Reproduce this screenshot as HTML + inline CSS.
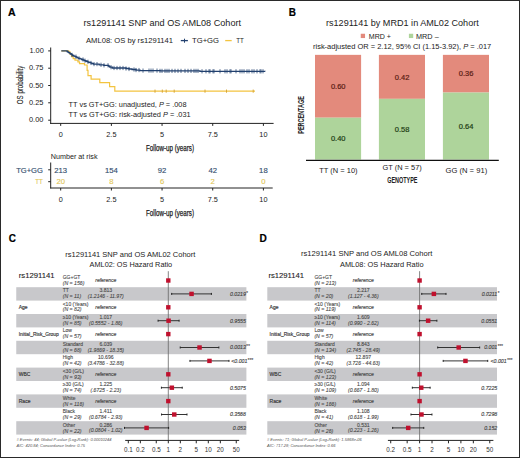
<!DOCTYPE html>
<html><head><meta charset="utf-8"><style>
html,body{margin:0;padding:0;background:#fff;}
svg{display:block;font-family:"Liberation Sans",sans-serif;}
</style></head><body>
<svg width="520" height="458" viewBox="0 0 520 458" fill="#222">
<text x="8.10" y="15.96" font-size="10.5" textLength="7.60" lengthAdjust="spacingAndGlyphs" font-weight="bold" fill="#000" stroke="#000" stroke-width="0.2">A</text>
<text x="83.50" y="25.65" font-size="8.8" textLength="157.50" lengthAdjust="spacingAndGlyphs">rs1291141 SNP and OS AML08 Cohort</text>
<text x="86.00" y="43.02" font-size="7.6" textLength="87.00" lengthAdjust="spacingAndGlyphs">AML08: OS by rs1291141</text>
<line x1="180.80" y1="40.60" x2="187.90" y2="40.60" stroke="#22406f" stroke-width="1.3"/>
<line x1="184.50" y1="38.70" x2="184.50" y2="42.70" stroke="#22406f" stroke-width="1.0"/>
<text x="192.00" y="43.02" font-size="7.6" textLength="27.00" lengthAdjust="spacingAndGlyphs">TG+GG</text>
<line x1="225.20" y1="40.60" x2="231.70" y2="40.60" stroke="#f3c440" stroke-width="1.3"/>
<text x="236.30" y="43.02" font-size="7.6" textLength="7.60" lengthAdjust="spacingAndGlyphs">TT</text>
<line x1="50.70" y1="47.50" x2="50.70" y2="123.90" stroke="#222" stroke-width="1"/>
<line x1="48.20" y1="50.90" x2="50.70" y2="50.90" stroke="#222" stroke-width="1"/>
<text x="43.80" y="53.15" font-size="7.4" text-anchor="end">1.00</text>
<line x1="48.20" y1="68.20" x2="50.70" y2="68.20" stroke="#222" stroke-width="1"/>
<text x="43.40" y="70.45" font-size="7.4" text-anchor="end">0.75</text>
<line x1="48.20" y1="85.50" x2="50.70" y2="85.50" stroke="#222" stroke-width="1"/>
<text x="43.40" y="87.75" font-size="7.4" text-anchor="end">0.50</text>
<line x1="48.20" y1="102.80" x2="50.70" y2="102.80" stroke="#222" stroke-width="1"/>
<text x="43.40" y="105.05" font-size="7.4" text-anchor="end">0.25</text>
<line x1="48.20" y1="120.20" x2="50.70" y2="120.20" stroke="#222" stroke-width="1"/>
<text x="43.40" y="122.45" font-size="7.4" text-anchor="end">0.00</text>
<text transform="translate(23.4,84.9) rotate(-90)" font-size="8.2" text-anchor="middle" textLength="38.5" lengthAdjust="spacingAndGlyphs" stroke="#222" stroke-width="0.1">OS probability</text>
<line x1="50.20" y1="123.40" x2="273.60" y2="123.40" stroke="#222" stroke-width="1"/>
<line x1="60.70" y1="123.40" x2="60.70" y2="125.90" stroke="#222" stroke-width="1"/>
<text x="60.70" y="137.01" font-size="7.3" text-anchor="middle">0</text>
<line x1="111.38" y1="123.40" x2="111.38" y2="125.90" stroke="#222" stroke-width="1"/>
<text x="111.38" y="137.01" font-size="7.3" text-anchor="middle">2.5</text>
<line x1="162.05" y1="123.40" x2="162.05" y2="125.90" stroke="#222" stroke-width="1"/>
<text x="162.05" y="137.01" font-size="7.3" text-anchor="middle">5</text>
<line x1="212.72" y1="123.40" x2="212.72" y2="125.90" stroke="#222" stroke-width="1"/>
<text x="212.72" y="137.01" font-size="7.3" text-anchor="middle">7.5</text>
<line x1="263.40" y1="123.40" x2="263.40" y2="125.90" stroke="#222" stroke-width="1"/>
<text x="263.40" y="137.01" font-size="7.3" text-anchor="middle">10</text>
<text x="170.00" y="150.81" font-size="8.4" text-anchor="middle" textLength="48.00" lengthAdjust="spacingAndGlyphs" stroke="#222" stroke-width="0.25">Follow-up (years)</text>
<text x="68.6" y="107.05" font-size="7.4" textLength="117.9" lengthAdjust="spacingAndGlyphs">TT vs GT+GG: unadjusted, <tspan font-style="italic">P</tspan> = .008</text>
<text x="68.6" y="117.35" font-size="7.4" textLength="122" lengthAdjust="spacingAndGlyphs">TT vs GT+GG: risk-adjusted <tspan font-style="italic">P</tspan> = .031</text>
<path d="M61.30,50.90 L68.70,50.90 L68.70,51.80 L70.00,51.80 L70.00,54.20 L71.50,54.20 L71.50,56.70 L73.20,56.70 L73.20,58.60 L75.00,58.60 L75.00,60.10 L77.90,60.10 L77.90,61.90 L79.50,61.90 L79.50,63.60 L84.50,63.60 L84.50,65.00 L87.10,65.00 L87.10,70.30 L88.00,70.30 L88.00,75.70 L91.10,75.70 L91.10,79.10 L99.80,79.10 L99.80,82.60 L109.60,82.60 L109.60,86.60 L114.80,86.60 L114.80,91.15 L255.00,91.15" fill="none" stroke="#f3c440" stroke-width="1.2"/>
<path d="M61.30,50.90 L66.30,50.90 L67.10,50.90 L67.10,51.48 L67.90,51.48 L67.90,52.05 L68.70,52.05 L68.70,52.62 L69.50,52.62 L69.50,53.20 L70.30,53.20 L70.30,53.77 L71.10,53.77 L71.10,54.35 L71.90,54.35 L71.90,54.92 L72.70,54.92 L72.70,55.50 L73.85,55.50 L73.85,56.08 L75.00,56.08 L75.00,56.65 L76.15,56.65 L76.15,57.22 L77.30,57.22 L77.30,57.80 L78.75,57.80 L78.75,58.38 L80.20,58.38 L80.20,58.95 L81.65,58.95 L81.65,59.52 L83.10,59.52 L83.10,60.10 L84.52,60.10 L84.52,60.67 L85.95,60.67 L85.95,61.25 L87.38,61.25 L87.38,61.83 L88.80,61.83 L88.80,62.40 L90.33,62.40 L90.33,62.97 L91.87,62.97 L91.87,63.53 L93.40,63.53 L93.40,64.10 L99.20,64.10 L99.20,64.80 L103.85,64.80 L103.85,65.30 L108.50,65.30 L108.50,65.80 L109.00,65.80 L109.00,66.27 L109.50,66.27 L109.50,66.73 L110.00,66.73 L110.00,67.20 L112.30,67.20 L112.30,68.00 L126.00,68.00 L126.00,68.50 L129.00,68.50 L129.00,69.00 L132.00,69.00 L132.00,69.50 L136.00,69.50 L136.00,70.05 L140.00,70.05 L140.00,70.60 L160.00,70.60 L160.00,70.90 L200.00,70.90 L200.00,71.30 L265.00,71.30 L265.00,71.40" fill="none" stroke="#22406f" stroke-width="1.3"/>
<line x1="72.00" y1="52.82" x2="72.00" y2="57.02" stroke="#22406f" stroke-width="0.75"/>
<line x1="76.00" y1="54.55" x2="76.00" y2="58.75" stroke="#22406f" stroke-width="0.75"/>
<line x1="79.00" y1="56.27" x2="79.00" y2="60.48" stroke="#22406f" stroke-width="0.75"/>
<line x1="83.00" y1="57.42" x2="83.00" y2="61.62" stroke="#22406f" stroke-width="0.75"/>
<line x1="85.00" y1="58.57" x2="85.00" y2="62.77" stroke="#22406f" stroke-width="0.75"/>
<line x1="88.00" y1="59.73" x2="88.00" y2="63.93" stroke="#22406f" stroke-width="0.75"/>
<line x1="91.00" y1="60.87" x2="91.00" y2="65.07" stroke="#22406f" stroke-width="0.75"/>
<line x1="94.00" y1="62.00" x2="94.00" y2="66.20" stroke="#22406f" stroke-width="0.75"/>
<line x1="97.00" y1="62.00" x2="97.00" y2="66.20" stroke="#22406f" stroke-width="0.75"/>
<line x1="101.00" y1="62.70" x2="101.00" y2="66.90" stroke="#22406f" stroke-width="0.75"/>
<line x1="104.00" y1="63.20" x2="104.00" y2="67.40" stroke="#22406f" stroke-width="0.75"/>
<line x1="108.00" y1="63.20" x2="108.00" y2="67.40" stroke="#22406f" stroke-width="0.75"/>
<line x1="111.00" y1="65.10" x2="111.00" y2="69.30" stroke="#22406f" stroke-width="0.75"/>
<line x1="114.00" y1="65.90" x2="114.00" y2="70.10" stroke="#22406f" stroke-width="0.75"/>
<line x1="117.00" y1="65.90" x2="117.00" y2="70.10" stroke="#22406f" stroke-width="0.75"/>
<line x1="120.00" y1="65.90" x2="120.00" y2="70.10" stroke="#22406f" stroke-width="0.75"/>
<line x1="123.00" y1="65.90" x2="123.00" y2="70.10" stroke="#22406f" stroke-width="0.75"/>
<line x1="126.00" y1="66.40" x2="126.00" y2="70.60" stroke="#22406f" stroke-width="0.75"/>
<line x1="129.00" y1="66.90" x2="129.00" y2="71.10" stroke="#22406f" stroke-width="0.75"/>
<line x1="134.00" y1="67.40" x2="134.00" y2="71.60" stroke="#22406f" stroke-width="0.75"/>
<line x1="136.00" y1="67.95" x2="136.00" y2="72.15" stroke="#22406f" stroke-width="0.75"/>
<line x1="139.00" y1="67.95" x2="139.00" y2="72.15" stroke="#22406f" stroke-width="0.75"/>
<line x1="143.00" y1="68.50" x2="143.00" y2="72.70" stroke="#22406f" stroke-width="0.75"/>
<line x1="149.00" y1="68.50" x2="149.00" y2="72.70" stroke="#22406f" stroke-width="0.75"/>
<line x1="151.00" y1="68.50" x2="151.00" y2="72.70" stroke="#22406f" stroke-width="0.75"/>
<line x1="153.00" y1="68.50" x2="153.00" y2="72.70" stroke="#22406f" stroke-width="0.75"/>
<line x1="157.00" y1="68.50" x2="157.00" y2="72.70" stroke="#22406f" stroke-width="0.75"/>
<line x1="160.00" y1="68.80" x2="160.00" y2="73.00" stroke="#22406f" stroke-width="0.75"/>
<line x1="162.00" y1="68.80" x2="162.00" y2="73.00" stroke="#22406f" stroke-width="0.75"/>
<line x1="165.00" y1="68.80" x2="165.00" y2="73.00" stroke="#22406f" stroke-width="0.75"/>
<line x1="167.00" y1="68.80" x2="167.00" y2="73.00" stroke="#22406f" stroke-width="0.75"/>
<line x1="169.00" y1="68.80" x2="169.00" y2="73.00" stroke="#22406f" stroke-width="0.75"/>
<line x1="172.00" y1="68.80" x2="172.00" y2="73.00" stroke="#22406f" stroke-width="0.75"/>
<line x1="175.00" y1="68.80" x2="175.00" y2="73.00" stroke="#22406f" stroke-width="0.75"/>
<line x1="178.00" y1="68.80" x2="178.00" y2="73.00" stroke="#22406f" stroke-width="0.75"/>
<line x1="181.00" y1="68.80" x2="181.00" y2="73.00" stroke="#22406f" stroke-width="0.75"/>
<line x1="185.00" y1="68.80" x2="185.00" y2="73.00" stroke="#22406f" stroke-width="0.75"/>
<line x1="188.00" y1="68.80" x2="188.00" y2="73.00" stroke="#22406f" stroke-width="0.75"/>
<line x1="191.00" y1="68.80" x2="191.00" y2="73.00" stroke="#22406f" stroke-width="0.75"/>
<line x1="194.00" y1="68.80" x2="194.00" y2="73.00" stroke="#22406f" stroke-width="0.75"/>
<line x1="196.00" y1="68.80" x2="196.00" y2="73.00" stroke="#22406f" stroke-width="0.75"/>
<line x1="198.00" y1="68.80" x2="198.00" y2="73.00" stroke="#22406f" stroke-width="0.75"/>
<line x1="202.00" y1="69.20" x2="202.00" y2="73.40" stroke="#22406f" stroke-width="0.75"/>
<line x1="206.00" y1="69.20" x2="206.00" y2="73.40" stroke="#22406f" stroke-width="0.75"/>
<line x1="209.00" y1="69.20" x2="209.00" y2="73.40" stroke="#22406f" stroke-width="0.75"/>
<line x1="210.00" y1="69.20" x2="210.00" y2="73.40" stroke="#22406f" stroke-width="0.75"/>
<line x1="213.00" y1="69.20" x2="213.00" y2="73.40" stroke="#22406f" stroke-width="0.75"/>
<line x1="214.00" y1="69.20" x2="214.00" y2="73.40" stroke="#22406f" stroke-width="0.75"/>
<line x1="220.00" y1="69.20" x2="220.00" y2="73.40" stroke="#22406f" stroke-width="0.75"/>
<line x1="225.00" y1="69.20" x2="225.00" y2="73.40" stroke="#22406f" stroke-width="0.75"/>
<line x1="227.00" y1="69.20" x2="227.00" y2="73.40" stroke="#22406f" stroke-width="0.75"/>
<line x1="230.00" y1="69.20" x2="230.00" y2="73.40" stroke="#22406f" stroke-width="0.75"/>
<line x1="231.00" y1="69.20" x2="231.00" y2="73.40" stroke="#22406f" stroke-width="0.75"/>
<line x1="236.00" y1="69.20" x2="236.00" y2="73.40" stroke="#22406f" stroke-width="0.75"/>
<line x1="240.00" y1="69.20" x2="240.00" y2="73.40" stroke="#22406f" stroke-width="0.75"/>
<line x1="242.00" y1="69.20" x2="242.00" y2="73.40" stroke="#22406f" stroke-width="0.75"/>
<line x1="244.00" y1="69.20" x2="244.00" y2="73.40" stroke="#22406f" stroke-width="0.75"/>
<line x1="247.00" y1="69.20" x2="247.00" y2="73.40" stroke="#22406f" stroke-width="0.75"/>
<line x1="249.00" y1="69.20" x2="249.00" y2="73.40" stroke="#22406f" stroke-width="0.75"/>
<line x1="252.00" y1="69.20" x2="252.00" y2="73.40" stroke="#22406f" stroke-width="0.75"/>
<line x1="254.00" y1="69.20" x2="254.00" y2="73.40" stroke="#22406f" stroke-width="0.75"/>
<line x1="257.00" y1="69.20" x2="257.00" y2="73.40" stroke="#22406f" stroke-width="0.75"/>
<line x1="260.00" y1="69.20" x2="260.00" y2="73.40" stroke="#22406f" stroke-width="0.75"/>
<line x1="261.00" y1="69.20" x2="261.00" y2="73.40" stroke="#22406f" stroke-width="0.75"/>
<line x1="263.00" y1="69.20" x2="263.00" y2="73.40" stroke="#22406f" stroke-width="0.75"/>
<line x1="155.00" y1="89.55" x2="155.00" y2="92.75" stroke="#d4a030" stroke-width="0.9"/>
<line x1="162.30" y1="89.55" x2="162.30" y2="92.75" stroke="#d4a030" stroke-width="0.9"/>
<line x1="166.20" y1="89.55" x2="166.20" y2="92.75" stroke="#d4a030" stroke-width="0.9"/>
<line x1="174.20" y1="89.55" x2="174.20" y2="92.75" stroke="#d4a030" stroke-width="0.9"/>
<line x1="205.00" y1="89.55" x2="205.00" y2="92.75" stroke="#d4a030" stroke-width="0.9"/>
<line x1="226.50" y1="89.55" x2="226.50" y2="92.75" stroke="#d4a030" stroke-width="0.9"/>
<line x1="253.20" y1="89.55" x2="253.20" y2="92.75" stroke="#d4a030" stroke-width="0.9"/>
<text x="50.80" y="158.84" font-size="7.1" textLength="46.70" lengthAdjust="spacingAndGlyphs">Number at risk</text>
<line x1="50.70" y1="162.50" x2="50.70" y2="188.40" stroke="#222" stroke-width="1"/>
<line x1="48.20" y1="169.80" x2="50.70" y2="169.80" stroke="#222" stroke-width="1"/>
<line x1="48.20" y1="181.70" x2="50.70" y2="181.70" stroke="#222" stroke-width="1"/>
<text x="42.90" y="172.72" font-size="7.6" text-anchor="end" textLength="26.70" lengthAdjust="spacingAndGlyphs" fill="#36506f" stroke="#36506f" stroke-width="0.15">TG+GG</text>
<text x="42.60" y="183.52" font-size="7.6" text-anchor="end" textLength="7.40" lengthAdjust="spacingAndGlyphs" fill="#e2c75a" stroke="#e2c75a" stroke-width="0.15">TT</text>
<text x="60.70" y="172.56" font-size="7.7" text-anchor="middle" fill="#36506f" stroke="#36506f" stroke-width="0.15">213</text>
<text x="60.70" y="184.46" font-size="7.7" text-anchor="middle" fill="#e2c75a" stroke="#e2c75a" stroke-width="0.15">20</text>
<text x="111.38" y="172.56" font-size="7.7" text-anchor="middle" fill="#36506f" stroke="#36506f" stroke-width="0.15">154</text>
<text x="111.38" y="184.46" font-size="7.7" text-anchor="middle" fill="#e2c75a" stroke="#e2c75a" stroke-width="0.15">8</text>
<text x="162.05" y="172.56" font-size="7.7" text-anchor="middle" fill="#36506f" stroke="#36506f" stroke-width="0.15">92</text>
<text x="162.05" y="184.46" font-size="7.7" text-anchor="middle" fill="#e2c75a" stroke="#e2c75a" stroke-width="0.15">6</text>
<text x="212.72" y="172.56" font-size="7.7" text-anchor="middle" fill="#36506f" stroke="#36506f" stroke-width="0.15">42</text>
<text x="212.72" y="184.46" font-size="7.7" text-anchor="middle" fill="#e2c75a" stroke="#e2c75a" stroke-width="0.15">2</text>
<text x="263.40" y="172.56" font-size="7.7" text-anchor="middle" fill="#36506f" stroke="#36506f" stroke-width="0.15">18</text>
<text x="263.40" y="184.46" font-size="7.7" text-anchor="middle" fill="#e2c75a" stroke="#e2c75a" stroke-width="0.15">0</text>
<line x1="50.20" y1="188.00" x2="272.70" y2="188.00" stroke="#222" stroke-width="1"/>
<line x1="60.70" y1="188.00" x2="60.70" y2="190.50" stroke="#222" stroke-width="1"/>
<text x="60.70" y="202.21" font-size="7.3" text-anchor="middle">0</text>
<line x1="111.38" y1="188.00" x2="111.38" y2="190.50" stroke="#222" stroke-width="1"/>
<text x="111.38" y="202.21" font-size="7.3" text-anchor="middle">2.5</text>
<line x1="162.05" y1="188.00" x2="162.05" y2="190.50" stroke="#222" stroke-width="1"/>
<text x="162.05" y="202.21" font-size="7.3" text-anchor="middle">5</text>
<line x1="212.72" y1="188.00" x2="212.72" y2="190.50" stroke="#222" stroke-width="1"/>
<text x="212.72" y="202.21" font-size="7.3" text-anchor="middle">7.5</text>
<line x1="263.40" y1="188.00" x2="263.40" y2="190.50" stroke="#222" stroke-width="1"/>
<text x="263.40" y="202.21" font-size="7.3" text-anchor="middle">10</text>
<text x="170.00" y="215.91" font-size="8.4" text-anchor="middle" textLength="48.00" lengthAdjust="spacingAndGlyphs" stroke="#222" stroke-width="0.25">Follow-up (years)</text>
<text x="288.70" y="15.76" font-size="10.5" textLength="7.20" lengthAdjust="spacingAndGlyphs" font-weight="bold" fill="#000" stroke="#000" stroke-width="0.2">B</text>
<text x="326.00" y="25.85" font-size="8.8" textLength="152.75" lengthAdjust="spacingAndGlyphs">rs1291141 by MRD1 in AML02 Cohort</text>
<rect x="360.75" y="33.75" width="4.30" height="4.30" fill="#e38a7c"/>
<text x="368.75" y="38.58" font-size="7.2" textLength="22.25" lengthAdjust="spacingAndGlyphs">MRD +</text>
<rect x="408.90" y="33.75" width="4.30" height="4.30" fill="#aed49b"/>
<text x="416.00" y="38.58" font-size="7.2" textLength="22.75" lengthAdjust="spacingAndGlyphs">MRD –</text>
<text x="313" y="49.48" font-size="7.48" textLength="178.25" lengthAdjust="spacingAndGlyphs">risk-adjusted OR = 2.12, 95% CI (1.15-3.92), <tspan font-style="italic">P</tspan> = .017</text>
<rect x="315.00" y="54.85" width="46.10" height="62.85" fill="#e38a7c"/>
<rect x="315.00" y="117.70" width="46.10" height="41.90" fill="#aed49b"/>
<text x="338.25" y="88.92" font-size="7.4" text-anchor="middle" textLength="14.60" lengthAdjust="spacingAndGlyphs" fill="#5a1d14" stroke="#5a1d14" stroke-width="0.2">0.60</text>
<text x="338.25" y="141.30" font-size="7.4" text-anchor="middle" textLength="14.60" lengthAdjust="spacingAndGlyphs" fill="#1d3d14" stroke="#1d3d14" stroke-width="0.2">0.40</text>
<rect x="378.90" y="54.85" width="46.10" height="43.99" fill="#e38a7c"/>
<rect x="378.90" y="98.84" width="46.10" height="60.76" fill="#aed49b"/>
<text x="402.15" y="79.50" font-size="7.4" text-anchor="middle" textLength="14.60" lengthAdjust="spacingAndGlyphs" fill="#5a1d14" stroke="#5a1d14" stroke-width="0.2">0.42</text>
<text x="402.15" y="131.87" font-size="7.4" text-anchor="middle" textLength="14.60" lengthAdjust="spacingAndGlyphs" fill="#1d3d14" stroke="#1d3d14" stroke-width="0.2">0.58</text>
<rect x="442.90" y="54.85" width="46.10" height="37.71" fill="#e38a7c"/>
<rect x="442.90" y="92.56" width="46.10" height="67.04" fill="#aed49b"/>
<text x="466.15" y="76.35" font-size="7.4" text-anchor="middle" textLength="14.60" lengthAdjust="spacingAndGlyphs" fill="#5a1d14" stroke="#5a1d14" stroke-width="0.2">0.36</text>
<text x="466.15" y="128.73" font-size="7.4" text-anchor="middle" textLength="14.60" lengthAdjust="spacingAndGlyphs" fill="#1d3d14" stroke="#1d3d14" stroke-width="0.2">0.64</text>
<line x1="306.00" y1="160.45" x2="498.80" y2="160.45" stroke="#111" stroke-width="1.3"/>
<text transform="translate(304.1,114.9) rotate(-90)" font-size="8.4" font-weight="bold" text-anchor="middle" textLength="37.7" lengthAdjust="spacingAndGlyphs">PERCENTAGE</text>
<text x="338.40" y="172.71" font-size="7.3" text-anchor="middle" textLength="38.30" lengthAdjust="spacingAndGlyphs">TT (N = 10)</text>
<text x="402.10" y="169.71" font-size="7.3" text-anchor="middle" textLength="39.40" lengthAdjust="spacingAndGlyphs">GT (N = 57)</text>
<text x="466.35" y="172.71" font-size="7.3" text-anchor="middle" textLength="41.70" lengthAdjust="spacingAndGlyphs">GG (N = 91)</text>
<text x="402.35" y="182.72" font-size="9.0" text-anchor="middle" textLength="30.30" lengthAdjust="spacingAndGlyphs" font-weight="bold">GENOTYPE</text>
<text x="8.75" y="241.66" font-size="10.5" textLength="7.20" lengthAdjust="spacingAndGlyphs" font-weight="bold" fill="#000" stroke="#000" stroke-width="0.2">C</text>
<text x="65.30" y="256.88" font-size="7.5" textLength="130.10" lengthAdjust="spacingAndGlyphs">rs1291141 SNP and OS AML02 Cohort</text>
<text x="89.60" y="267.45" font-size="7.4" textLength="82.60" lengthAdjust="spacingAndGlyphs">AML02: OS Hazard Ratio</text>
<rect x="16.25" y="287.20" width="230.15" height="13.40" fill="#c8c8cb"/>
<rect x="16.25" y="314.00" width="230.15" height="13.40" fill="#c8c8cb"/>
<rect x="16.25" y="340.80" width="230.15" height="13.40" fill="#c8c8cb"/>
<rect x="16.25" y="367.60" width="230.15" height="13.40" fill="#c8c8cb"/>
<rect x="16.25" y="394.40" width="230.15" height="13.40" fill="#c8c8cb"/>
<rect x="16.25" y="421.20" width="230.15" height="13.40" fill="#c8c8cb"/>
<text x="18.75" y="278.26" font-size="7.7" textLength="35.75" lengthAdjust="spacingAndGlyphs" stroke="#222" stroke-width="0.1">rs1291141</text>
<text x="18.75" y="309.09" font-size="5.0" textLength="8.90" lengthAdjust="spacingAndGlyphs" fill="#333" stroke="#333" stroke-width="0.15">Age</text>
<text x="18.75" y="335.89" font-size="5.0" textLength="40.00" lengthAdjust="spacingAndGlyphs" fill="#333" stroke="#333" stroke-width="0.15">Initial_Risk_Group</text>
<text x="18.75" y="376.09" font-size="5.0" textLength="11.70" lengthAdjust="spacingAndGlyphs" fill="#333" stroke="#333" stroke-width="0.15">WBC</text>
<text x="18.75" y="402.89" font-size="5.0" textLength="11.70" lengthAdjust="spacingAndGlyphs" fill="#333" stroke="#333" stroke-width="0.15">Race</text>
<line x1="168.30" y1="271.20" x2="168.30" y2="440.40" stroke="#666" stroke-width="0.8"/>
<text x="62.70" y="278.64" font-size="5.0" fill="#484848" stroke="#484848" stroke-width="0.1">GG+GT</text>
<text x="62.70" y="284.51" font-size="5.2" font-style="italic" fill="#484848" stroke="#484848" stroke-width="0.1">(N = 156)</text>
<text x="105.80" y="282.29" font-size="5.0" text-anchor="middle" font-style="italic" fill="#484848" stroke="#484848" stroke-width="0.15">reference</text>
<rect x="166.10" y="278.30" width="4.40" height="4.40" fill="#c0112e"/>
<text x="62.70" y="292.08" font-size="5.0" fill="#484848" stroke="#484848" stroke-width="0.1">TT</text>
<text x="62.70" y="297.97" font-size="5.2" font-style="italic" fill="#484848" stroke="#484848" stroke-width="0.1">(N = 11)</text>
<text x="105.80" y="292.12" font-size="5.1" text-anchor="middle" fill="#484848" stroke="#484848" stroke-width="0.1">3.813</text>
<text x="105.80" y="297.93" font-size="5.1" text-anchor="middle" font-style="italic" fill="#484848" stroke="#484848" stroke-width="0.1">(1.2146 - 11.97)</text>
<line x1="171.68" y1="293.90" x2="211.42" y2="293.90" stroke="#333" stroke-width="1.0"/>
<line x1="171.68" y1="292.90" x2="171.68" y2="294.90" stroke="#222" stroke-width="1.0"/>
<line x1="211.42" y1="292.90" x2="211.42" y2="294.90" stroke="#222" stroke-width="1.0"/>
<rect x="189.30" y="291.70" width="4.50" height="4.40" fill="#c0112e"/>
<text x="245.80" y="295.76" font-size="5.2" text-anchor="end" font-style="italic" fill="#484848" stroke="#484848" stroke-width="0.15">0.0219</text>
<text x="246.10" y="294.55" font-size="4.6" font-style="italic" fill="#484848" stroke="#484848" stroke-width="0.1">*</text>
<text x="62.70" y="305.53" font-size="5.0" fill="#484848" stroke="#484848" stroke-width="0.1">&lt;10 (Years)</text>
<text x="62.70" y="311.42" font-size="5.2" font-style="italic" fill="#484848" stroke="#484848" stroke-width="0.1">(N = 82)</text>
<text x="105.80" y="309.09" font-size="5.0" text-anchor="middle" font-style="italic" fill="#484848" stroke="#484848" stroke-width="0.15">reference</text>
<rect x="166.10" y="305.10" width="4.40" height="4.40" fill="#c0112e"/>
<text x="62.70" y="318.98" font-size="5.0" fill="#484848" stroke="#484848" stroke-width="0.1">≥10 (Years)</text>
<text x="62.70" y="324.88" font-size="5.2" font-style="italic" fill="#484848" stroke="#484848" stroke-width="0.1">(N = 85)</text>
<text x="105.80" y="319.01" font-size="5.1" text-anchor="middle" fill="#484848" stroke="#484848" stroke-width="0.1">1.017</text>
<text x="105.80" y="324.84" font-size="5.1" text-anchor="middle" font-style="italic" fill="#484848" stroke="#484848" stroke-width="0.1">(0.5552 - 1.86)</text>
<line x1="158.08" y1="320.70" x2="179.08" y2="320.70" stroke="#333" stroke-width="1.0"/>
<line x1="158.08" y1="319.70" x2="158.08" y2="321.70" stroke="#222" stroke-width="1.0"/>
<line x1="179.08" y1="319.70" x2="179.08" y2="321.70" stroke="#222" stroke-width="1.0"/>
<rect x="166.33" y="318.50" width="4.50" height="4.40" fill="#c0112e"/>
<text x="245.80" y="322.56" font-size="5.2" text-anchor="end" font-style="italic" fill="#484848" stroke="#484848" stroke-width="0.15">0.9555</text>
<text x="62.70" y="332.42" font-size="5.0" fill="#484848" stroke="#484848" stroke-width="0.1">Low</text>
<text x="62.70" y="338.33" font-size="5.2" font-style="italic" fill="#484848" stroke="#484848" stroke-width="0.1">(N = 57)</text>
<text x="105.80" y="335.89" font-size="5.0" text-anchor="middle" font-style="italic" fill="#484848" stroke="#484848" stroke-width="0.15">reference</text>
<rect x="166.10" y="331.90" width="4.40" height="4.40" fill="#c0112e"/>
<text x="62.70" y="345.87" font-size="5.0" fill="#484848" stroke="#484848" stroke-width="0.1">Standard</text>
<text x="62.70" y="351.79" font-size="5.2" font-style="italic" fill="#484848" stroke="#484848" stroke-width="0.1">(N = 68)</text>
<text x="105.80" y="345.90" font-size="5.1" text-anchor="middle" fill="#484848" stroke="#484848" stroke-width="0.1">6.039</text>
<text x="105.80" y="351.75" font-size="5.1" text-anchor="middle" font-style="italic" fill="#484848" stroke="#484848" stroke-width="0.1">(1.9869 - 18.35)</text>
<line x1="180.23" y1="347.50" x2="218.85" y2="347.50" stroke="#333" stroke-width="1.0"/>
<line x1="180.23" y1="346.50" x2="180.23" y2="348.50" stroke="#222" stroke-width="1.0"/>
<line x1="218.85" y1="346.50" x2="218.85" y2="348.50" stroke="#222" stroke-width="1.0"/>
<rect x="197.29" y="345.30" width="4.50" height="4.40" fill="#c0112e"/>
<text x="245.80" y="349.36" font-size="5.2" text-anchor="end" font-style="italic" fill="#484848" stroke="#484848" stroke-width="0.15">0.0013</text>
<text x="246.10" y="348.15" font-size="4.6" font-style="italic" fill="#484848" stroke="#484848" stroke-width="0.1">**</text>
<text x="62.70" y="359.31" font-size="5.0" fill="#484848" stroke="#484848" stroke-width="0.1">High</text>
<text x="62.70" y="365.24" font-size="5.2" font-style="italic" fill="#484848" stroke="#484848" stroke-width="0.1">(N = 42)</text>
<text x="105.80" y="359.35" font-size="5.1" text-anchor="middle" fill="#484848" stroke="#484848" stroke-width="0.1">10.696</text>
<text x="105.80" y="365.21" font-size="5.1" text-anchor="middle" font-style="italic" fill="#484848" stroke="#484848" stroke-width="0.1">(3.4786 - 32.88)</text>
<line x1="189.96" y1="360.90" x2="228.98" y2="360.90" stroke="#333" stroke-width="1.0"/>
<line x1="189.96" y1="359.90" x2="189.96" y2="361.90" stroke="#222" stroke-width="1.0"/>
<line x1="228.98" y1="359.90" x2="228.98" y2="361.90" stroke="#222" stroke-width="1.0"/>
<rect x="207.22" y="358.70" width="4.50" height="4.40" fill="#c0112e"/>
<text x="231.30" y="362.76" font-size="5.2" font-style="italic" fill="#484848" stroke="#484848" stroke-width="0.15">&lt;0.001</text>
<text x="247.60" y="361.55" font-size="4.6" font-style="italic" fill="#484848" stroke="#484848" stroke-width="0.1">***</text>
<text x="62.70" y="372.76" font-size="5.0" fill="#484848" stroke="#484848" stroke-width="0.1">&lt;30 (G/L)</text>
<text x="62.70" y="378.70" font-size="5.2" font-style="italic" fill="#484848" stroke="#484848" stroke-width="0.1">(N = 93)</text>
<text x="105.80" y="376.09" font-size="5.0" text-anchor="middle" font-style="italic" fill="#484848" stroke="#484848" stroke-width="0.15">reference</text>
<rect x="166.10" y="372.10" width="4.40" height="4.40" fill="#c0112e"/>
<text x="62.70" y="386.20" font-size="5.0" fill="#484848" stroke="#484848" stroke-width="0.1">≥30 (G/L)</text>
<text x="62.70" y="392.15" font-size="5.2" font-style="italic" fill="#484848" stroke="#484848" stroke-width="0.1">(N = 74)</text>
<text x="105.80" y="386.24" font-size="5.1" text-anchor="middle" fill="#484848" stroke="#484848" stroke-width="0.1">1.225</text>
<text x="105.80" y="392.12" font-size="5.1" text-anchor="middle" font-style="italic" fill="#484848" stroke="#484848" stroke-width="0.1">(.6725 - 2.23)</text>
<line x1="161.41" y1="387.70" x2="182.23" y2="387.70" stroke="#333" stroke-width="1.0"/>
<line x1="161.41" y1="386.70" x2="161.41" y2="388.70" stroke="#222" stroke-width="1.0"/>
<line x1="182.23" y1="386.70" x2="182.23" y2="388.70" stroke="#222" stroke-width="1.0"/>
<rect x="169.57" y="385.50" width="4.50" height="4.40" fill="#c0112e"/>
<text x="245.80" y="389.56" font-size="5.2" text-anchor="end" font-style="italic" fill="#484848" stroke="#484848" stroke-width="0.15">0.5075</text>
<text x="62.70" y="399.65" font-size="5.0" fill="#484848" stroke="#484848" stroke-width="0.1">White</text>
<text x="62.70" y="405.61" font-size="5.2" font-style="italic" fill="#484848" stroke="#484848" stroke-width="0.1">(N = 116)</text>
<text x="105.80" y="402.89" font-size="5.0" text-anchor="middle" font-style="italic" fill="#484848" stroke="#484848" stroke-width="0.15">reference</text>
<rect x="166.10" y="398.90" width="4.40" height="4.40" fill="#c0112e"/>
<text x="62.70" y="413.09" font-size="5.0" fill="#484848" stroke="#484848" stroke-width="0.1">Black</text>
<text x="62.70" y="419.06" font-size="5.2" font-style="italic" fill="#484848" stroke="#484848" stroke-width="0.1">(N = 29)</text>
<text x="105.80" y="413.13" font-size="5.1" text-anchor="middle" fill="#484848" stroke="#484848" stroke-width="0.1">1.411</text>
<text x="105.80" y="419.03" font-size="5.1" text-anchor="middle" font-style="italic" fill="#484848" stroke="#484848" stroke-width="0.1">(0.6784 - 2.93)</text>
<line x1="161.56" y1="414.50" x2="186.97" y2="414.50" stroke="#333" stroke-width="1.0"/>
<line x1="161.56" y1="413.50" x2="161.56" y2="415.50" stroke="#222" stroke-width="1.0"/>
<line x1="186.97" y1="413.50" x2="186.97" y2="415.50" stroke="#222" stroke-width="1.0"/>
<rect x="172.02" y="412.30" width="4.50" height="4.40" fill="#c0112e"/>
<text x="245.80" y="416.36" font-size="5.2" text-anchor="end" font-style="italic" fill="#484848" stroke="#484848" stroke-width="0.15">0.3568</text>
<text x="62.70" y="426.54" font-size="5.0" fill="#484848" stroke="#484848" stroke-width="0.1">Other</text>
<text x="62.70" y="432.52" font-size="5.2" font-style="italic" fill="#484848" stroke="#484848" stroke-width="0.1">(N = 22)</text>
<text x="105.80" y="426.57" font-size="5.1" text-anchor="middle" fill="#484848" stroke="#484848" stroke-width="0.1">0.286</text>
<text x="105.80" y="432.48" font-size="5.1" text-anchor="middle" font-style="italic" fill="#484848" stroke="#484848" stroke-width="0.1">(0.0804 - 1.02)</text>
<line x1="124.51" y1="427.90" x2="168.64" y2="427.90" stroke="#333" stroke-width="1.0"/>
<line x1="124.51" y1="426.90" x2="124.51" y2="428.90" stroke="#222" stroke-width="1.0"/>
<line x1="168.64" y1="426.90" x2="168.64" y2="428.90" stroke="#222" stroke-width="1.0"/>
<rect x="144.33" y="425.70" width="4.50" height="4.40" fill="#c0112e"/>
<text x="245.80" y="429.76" font-size="5.2" text-anchor="end" font-style="italic" fill="#484848" stroke="#484848" stroke-width="0.15">0.053</text>
<line x1="125.20" y1="440.40" x2="239.20" y2="440.40" stroke="#222" stroke-width="1.0"/>
<line x1="128.30" y1="440.40" x2="128.30" y2="443.30" stroke="#222" stroke-width="1.0"/>
<text x="128.30" y="451.76" font-size="6.3" text-anchor="middle" fill="#333">0.1</text>
<line x1="140.34" y1="440.40" x2="140.34" y2="443.30" stroke="#222" stroke-width="1.0"/>
<text x="140.34" y="451.76" font-size="6.3" text-anchor="middle" fill="#333">0.2</text>
<line x1="156.26" y1="440.40" x2="156.26" y2="443.30" stroke="#222" stroke-width="1.0"/>
<text x="156.26" y="451.76" font-size="6.3" text-anchor="middle" fill="#333">0.5</text>
<line x1="168.30" y1="440.40" x2="168.30" y2="443.30" stroke="#222" stroke-width="1.0"/>
<text x="168.30" y="451.76" font-size="6.3" text-anchor="middle" fill="#333">1</text>
<line x1="180.34" y1="440.40" x2="180.34" y2="443.30" stroke="#222" stroke-width="1.0"/>
<text x="180.34" y="451.76" font-size="6.3" text-anchor="middle" fill="#333">2</text>
<line x1="196.26" y1="440.40" x2="196.26" y2="443.30" stroke="#222" stroke-width="1.0"/>
<text x="196.26" y="451.76" font-size="6.3" text-anchor="middle" fill="#333">5</text>
<line x1="208.30" y1="440.40" x2="208.30" y2="443.30" stroke="#222" stroke-width="1.0"/>
<text x="208.30" y="451.76" font-size="6.3" text-anchor="middle" fill="#333">10</text>
<line x1="220.34" y1="440.40" x2="220.34" y2="443.30" stroke="#222" stroke-width="1.0"/>
<text x="220.34" y="451.76" font-size="6.3" text-anchor="middle" fill="#333">20</text>
<line x1="236.26" y1="440.40" x2="236.26" y2="443.30" stroke="#222" stroke-width="1.0"/>
<text x="236.26" y="451.76" font-size="6.3" text-anchor="middle" fill="#333">50</text>
<text x="16.50" y="441.03" font-size="4.0" textLength="95.00" lengthAdjust="spacingAndGlyphs" font-style="italic" fill="#555"># Events: 44; Global P-value (Log-Rank): 0.00010244</text>
<text x="16.50" y="446.73" font-size="4.0" textLength="68.50" lengthAdjust="spacingAndGlyphs" font-style="italic" fill="#555">AIC: 420.84; Concordance Index: 0.75</text>
<text x="259.60" y="241.61" font-size="10.5" textLength="7.30" lengthAdjust="spacingAndGlyphs" font-weight="bold" fill="#000" stroke="#000" stroke-width="0.2">D</text>
<text x="301.00" y="256.12" font-size="7.6" textLength="131.30" lengthAdjust="spacingAndGlyphs">rs1291141 SNP and OS AML08 Cohort</text>
<text x="340.00" y="267.29" font-size="7.5" textLength="83.50" lengthAdjust="spacingAndGlyphs">AML08: OS Hazard Ratio</text>
<rect x="267.30" y="287.20" width="229.70" height="13.40" fill="#c8c8cb"/>
<rect x="267.30" y="314.00" width="229.70" height="13.40" fill="#c8c8cb"/>
<rect x="267.30" y="340.80" width="229.70" height="13.40" fill="#c8c8cb"/>
<rect x="267.30" y="367.60" width="229.70" height="13.40" fill="#c8c8cb"/>
<rect x="267.30" y="394.40" width="229.70" height="13.40" fill="#c8c8cb"/>
<rect x="267.30" y="421.20" width="229.70" height="13.40" fill="#c8c8cb"/>
<text x="268.40" y="278.26" font-size="7.7" textLength="35.75" lengthAdjust="spacingAndGlyphs" stroke="#222" stroke-width="0.1">rs1291141</text>
<text x="269.60" y="309.09" font-size="5.0" textLength="8.90" lengthAdjust="spacingAndGlyphs" fill="#333" stroke="#333" stroke-width="0.15">Age</text>
<text x="269.60" y="335.89" font-size="5.0" textLength="40.00" lengthAdjust="spacingAndGlyphs" fill="#333" stroke="#333" stroke-width="0.15">Initial_Risk_Group</text>
<text x="269.60" y="376.09" font-size="5.0" textLength="11.70" lengthAdjust="spacingAndGlyphs" fill="#333" stroke="#333" stroke-width="0.15">WBC</text>
<text x="269.60" y="402.89" font-size="5.0" textLength="11.70" lengthAdjust="spacingAndGlyphs" fill="#333" stroke="#333" stroke-width="0.15">Race</text>
<line x1="419.60" y1="271.20" x2="419.60" y2="440.40" stroke="#666" stroke-width="0.8"/>
<text x="314.40" y="278.64" font-size="5.0" fill="#484848" stroke="#484848" stroke-width="0.1">GG+GT</text>
<text x="314.40" y="284.51" font-size="5.2" font-style="italic" fill="#484848" stroke="#484848" stroke-width="0.1">(N = 213)</text>
<text x="363.30" y="282.29" font-size="5.0" text-anchor="middle" font-style="italic" fill="#484848" stroke="#484848" stroke-width="0.15">reference</text>
<rect x="417.40" y="278.30" width="4.40" height="4.40" fill="#c0112e"/>
<text x="314.40" y="292.08" font-size="5.0" fill="#484848" stroke="#484848" stroke-width="0.1">TT</text>
<text x="314.40" y="297.97" font-size="5.2" font-style="italic" fill="#484848" stroke="#484848" stroke-width="0.1">(N = 20)</text>
<text x="363.30" y="292.12" font-size="5.1" text-anchor="middle" fill="#484848" stroke="#484848" stroke-width="0.1">2.217</text>
<text x="363.30" y="297.93" font-size="5.1" text-anchor="middle" font-style="italic" fill="#484848" stroke="#484848" stroke-width="0.1">(1.127 - 4.36)</text>
<line x1="421.74" y1="293.90" x2="446.01" y2="293.90" stroke="#333" stroke-width="1.0"/>
<line x1="421.74" y1="292.90" x2="421.74" y2="294.90" stroke="#222" stroke-width="1.0"/>
<line x1="446.01" y1="292.90" x2="446.01" y2="294.90" stroke="#222" stroke-width="1.0"/>
<rect x="431.63" y="291.70" width="4.50" height="4.40" fill="#c0112e"/>
<text x="497.20" y="295.76" font-size="5.2" text-anchor="end" font-style="italic" fill="#484848" stroke="#484848" stroke-width="0.15">0.0211</text>
<text x="497.50" y="294.55" font-size="4.6" font-style="italic" fill="#484848" stroke="#484848" stroke-width="0.1">*</text>
<text x="314.40" y="305.53" font-size="5.0" fill="#484848" stroke="#484848" stroke-width="0.1">&lt;10 (Years)</text>
<text x="314.40" y="311.42" font-size="5.2" font-style="italic" fill="#484848" stroke="#484848" stroke-width="0.1">(N = 119)</text>
<text x="363.30" y="309.09" font-size="5.0" text-anchor="middle" font-style="italic" fill="#484848" stroke="#484848" stroke-width="0.15">reference</text>
<rect x="417.40" y="305.10" width="4.40" height="4.40" fill="#c0112e"/>
<text x="314.40" y="318.98" font-size="5.0" fill="#484848" stroke="#484848" stroke-width="0.1">≥10 (Years)</text>
<text x="314.40" y="324.88" font-size="5.2" font-style="italic" fill="#484848" stroke="#484848" stroke-width="0.1">(N = 114)</text>
<text x="363.30" y="319.01" font-size="5.1" text-anchor="middle" fill="#484848" stroke="#484848" stroke-width="0.1">1.609</text>
<text x="363.30" y="324.84" font-size="5.1" text-anchor="middle" font-style="italic" fill="#484848" stroke="#484848" stroke-width="0.1">(0.990 - 2.62)</text>
<line x1="419.42" y1="320.70" x2="436.88" y2="320.70" stroke="#333" stroke-width="1.0"/>
<line x1="419.42" y1="319.70" x2="419.42" y2="321.70" stroke="#222" stroke-width="1.0"/>
<line x1="436.88" y1="319.70" x2="436.88" y2="321.70" stroke="#222" stroke-width="1.0"/>
<rect x="425.90" y="318.50" width="4.50" height="4.40" fill="#c0112e"/>
<text x="497.20" y="322.56" font-size="5.2" text-anchor="end" font-style="italic" fill="#484848" stroke="#484848" stroke-width="0.15">0.0551</text>
<text x="314.40" y="332.42" font-size="5.0" fill="#484848" stroke="#484848" stroke-width="0.1">Low</text>
<text x="314.40" y="338.33" font-size="5.2" font-style="italic" fill="#484848" stroke="#484848" stroke-width="0.1">(N = 57)</text>
<text x="363.30" y="335.89" font-size="5.0" text-anchor="middle" font-style="italic" fill="#484848" stroke="#484848" stroke-width="0.15">reference</text>
<rect x="417.40" y="331.90" width="4.40" height="4.40" fill="#c0112e"/>
<text x="314.40" y="345.87" font-size="5.0" fill="#484848" stroke="#484848" stroke-width="0.1">Standard</text>
<text x="314.40" y="351.79" font-size="5.2" font-style="italic" fill="#484848" stroke="#484848" stroke-width="0.1">(N = 134)</text>
<text x="363.30" y="345.90" font-size="5.1" text-anchor="middle" fill="#484848" stroke="#484848" stroke-width="0.1">8.843</text>
<text x="363.30" y="351.75" font-size="5.1" text-anchor="middle" font-style="italic" fill="#484848" stroke="#484848" stroke-width="0.1">(2.745 - 28.49)</text>
<line x1="437.71" y1="347.50" x2="479.68" y2="347.50" stroke="#333" stroke-width="1.0"/>
<line x1="437.71" y1="346.50" x2="437.71" y2="348.50" stroke="#222" stroke-width="1.0"/>
<line x1="479.68" y1="346.50" x2="479.68" y2="348.50" stroke="#222" stroke-width="1.0"/>
<rect x="456.45" y="345.30" width="4.50" height="4.40" fill="#c0112e"/>
<text x="497.20" y="349.36" font-size="5.2" text-anchor="end" font-style="italic" fill="#484848" stroke="#484848" stroke-width="0.15">0.001</text>
<text x="497.50" y="348.15" font-size="4.6" font-style="italic" fill="#484848" stroke="#484848" stroke-width="0.1">***</text>
<text x="314.40" y="359.31" font-size="5.0" fill="#484848" stroke="#484848" stroke-width="0.1">High</text>
<text x="314.40" y="365.24" font-size="5.2" font-style="italic" fill="#484848" stroke="#484848" stroke-width="0.1">(N = 42)</text>
<text x="363.30" y="359.35" font-size="5.1" text-anchor="middle" fill="#484848" stroke="#484848" stroke-width="0.1">12.897</text>
<text x="363.30" y="365.21" font-size="5.1" text-anchor="middle" font-style="italic" fill="#484848" stroke="#484848" stroke-width="0.1">(3.726 - 44.63)</text>
<line x1="443.19" y1="360.90" x2="487.73" y2="360.90" stroke="#333" stroke-width="1.0"/>
<line x1="443.19" y1="359.90" x2="443.19" y2="361.90" stroke="#222" stroke-width="1.0"/>
<line x1="487.73" y1="359.90" x2="487.73" y2="361.90" stroke="#222" stroke-width="1.0"/>
<rect x="463.21" y="358.70" width="4.50" height="4.40" fill="#c0112e"/>
<text x="490.60" y="362.76" font-size="5.2" font-style="italic" fill="#484848" stroke="#484848" stroke-width="0.15">&lt;0.001</text>
<text x="506.90" y="361.55" font-size="4.6" font-style="italic" fill="#484848" stroke="#484848" stroke-width="0.1">***</text>
<text x="314.40" y="372.76" font-size="5.0" fill="#484848" stroke="#484848" stroke-width="0.1">&lt;30 (G/L)</text>
<text x="314.40" y="378.70" font-size="5.2" font-style="italic" fill="#484848" stroke="#484848" stroke-width="0.1">(N = 123)</text>
<text x="363.30" y="376.09" font-size="5.0" text-anchor="middle" font-style="italic" fill="#484848" stroke="#484848" stroke-width="0.15">reference</text>
<rect x="417.40" y="372.10" width="4.40" height="4.40" fill="#c0112e"/>
<text x="314.40" y="386.20" font-size="5.0" fill="#484848" stroke="#484848" stroke-width="0.1">≥30 (G/L)</text>
<text x="314.40" y="392.15" font-size="5.2" font-style="italic" fill="#484848" stroke="#484848" stroke-width="0.1">(N = 109)</text>
<text x="363.30" y="386.24" font-size="5.1" text-anchor="middle" fill="#484848" stroke="#484848" stroke-width="0.1">1.094</text>
<text x="363.30" y="392.12" font-size="5.1" text-anchor="middle" font-style="italic" fill="#484848" stroke="#484848" stroke-width="0.1">(0.667 - 1.80)</text>
<line x1="412.34" y1="387.70" x2="430.14" y2="387.70" stroke="#333" stroke-width="1.0"/>
<line x1="412.34" y1="386.70" x2="412.34" y2="388.70" stroke="#222" stroke-width="1.0"/>
<line x1="430.14" y1="386.70" x2="430.14" y2="388.70" stroke="#222" stroke-width="1.0"/>
<rect x="418.99" y="385.50" width="4.50" height="4.40" fill="#c0112e"/>
<text x="497.20" y="389.56" font-size="5.2" text-anchor="end" font-style="italic" fill="#484848" stroke="#484848" stroke-width="0.15">0.7225</text>
<text x="314.40" y="399.65" font-size="5.0" fill="#484848" stroke="#484848" stroke-width="0.1">White</text>
<text x="314.40" y="405.61" font-size="5.2" font-style="italic" fill="#484848" stroke="#484848" stroke-width="0.1">(N = 166)</text>
<text x="363.30" y="402.89" font-size="5.0" text-anchor="middle" font-style="italic" fill="#484848" stroke="#484848" stroke-width="0.15">reference</text>
<rect x="417.40" y="398.90" width="4.40" height="4.40" fill="#c0112e"/>
<text x="314.40" y="413.09" font-size="5.0" fill="#484848" stroke="#484848" stroke-width="0.1">Black</text>
<text x="314.40" y="419.06" font-size="5.2" font-style="italic" fill="#484848" stroke="#484848" stroke-width="0.1">(N = 41)</text>
<text x="363.30" y="413.13" font-size="5.1" text-anchor="middle" fill="#484848" stroke="#484848" stroke-width="0.1">1.108</text>
<text x="363.30" y="419.03" font-size="5.1" text-anchor="middle" font-style="italic" fill="#484848" stroke="#484848" stroke-width="0.1">(0.618 - 1.99)</text>
<line x1="410.97" y1="414.50" x2="431.94" y2="414.50" stroke="#333" stroke-width="1.0"/>
<line x1="410.97" y1="413.50" x2="410.97" y2="415.50" stroke="#222" stroke-width="1.0"/>
<line x1="431.94" y1="413.50" x2="431.94" y2="415.50" stroke="#222" stroke-width="1.0"/>
<rect x="419.21" y="412.30" width="4.50" height="4.40" fill="#c0112e"/>
<text x="497.20" y="416.36" font-size="5.2" text-anchor="end" font-style="italic" fill="#484848" stroke="#484848" stroke-width="0.15">0.7298</text>
<text x="314.40" y="426.54" font-size="5.0" fill="#484848" stroke="#484848" stroke-width="0.1">Other</text>
<text x="314.40" y="432.52" font-size="5.2" font-style="italic" fill="#484848" stroke="#484848" stroke-width="0.1">(N = 26)</text>
<text x="363.30" y="426.57" font-size="5.1" text-anchor="middle" fill="#484848" stroke="#484848" stroke-width="0.1">0.531</text>
<text x="363.30" y="432.48" font-size="5.1" text-anchor="middle" font-style="italic" fill="#484848" stroke="#484848" stroke-width="0.1">(0.223 - 1.26)</text>
<line x1="392.68" y1="427.90" x2="423.75" y2="427.90" stroke="#333" stroke-width="1.0"/>
<line x1="392.68" y1="426.90" x2="392.68" y2="428.90" stroke="#222" stroke-width="1.0"/>
<line x1="423.75" y1="426.90" x2="423.75" y2="428.90" stroke="#222" stroke-width="1.0"/>
<rect x="405.97" y="425.70" width="4.50" height="4.40" fill="#c0112e"/>
<text x="497.20" y="429.76" font-size="5.2" text-anchor="end" font-style="italic" fill="#484848" stroke="#484848" stroke-width="0.15">0.152</text>
<line x1="387.90" y1="440.40" x2="493.40" y2="440.40" stroke="#222" stroke-width="1.0"/>
<line x1="390.73" y1="440.40" x2="390.73" y2="443.30" stroke="#222" stroke-width="1.0"/>
<text x="390.73" y="451.76" font-size="6.3" text-anchor="middle" fill="#333">0.2</text>
<line x1="407.17" y1="440.40" x2="407.17" y2="443.30" stroke="#222" stroke-width="1.0"/>
<text x="407.17" y="451.76" font-size="6.3" text-anchor="middle" fill="#333">0.5</text>
<line x1="419.60" y1="440.40" x2="419.60" y2="443.30" stroke="#222" stroke-width="1.0"/>
<text x="419.60" y="451.76" font-size="6.3" text-anchor="middle" fill="#333">1</text>
<line x1="432.03" y1="440.40" x2="432.03" y2="443.30" stroke="#222" stroke-width="1.0"/>
<text x="432.03" y="451.76" font-size="6.3" text-anchor="middle" fill="#333">2</text>
<line x1="448.47" y1="440.40" x2="448.47" y2="443.30" stroke="#222" stroke-width="1.0"/>
<text x="448.47" y="451.76" font-size="6.3" text-anchor="middle" fill="#333">5</text>
<line x1="460.90" y1="440.40" x2="460.90" y2="443.30" stroke="#222" stroke-width="1.0"/>
<text x="460.90" y="451.76" font-size="6.3" text-anchor="middle" fill="#333">10</text>
<line x1="473.33" y1="440.40" x2="473.33" y2="443.30" stroke="#222" stroke-width="1.0"/>
<text x="473.33" y="451.76" font-size="6.3" text-anchor="middle" fill="#333">20</text>
<line x1="489.77" y1="440.40" x2="489.77" y2="443.30" stroke="#222" stroke-width="1.0"/>
<text x="489.77" y="451.76" font-size="6.3" text-anchor="middle" fill="#333">50</text>
<text x="267.00" y="441.03" font-size="4.0" textLength="94.70" lengthAdjust="spacingAndGlyphs" font-style="italic" fill="#555"># Events: 71; Global P-value (Log-Rank): 1.5868e-06</text>
<text x="267.00" y="446.73" font-size="4.0" textLength="68.40" lengthAdjust="spacingAndGlyphs" font-style="italic" fill="#555">AIC: 717.28; Concordance Index: 0.66</text>
<rect x="0.5" y="0.5" width="519" height="457" fill="none" stroke="#2a2a2a" stroke-width="1"/>
</svg>
</body></html>
